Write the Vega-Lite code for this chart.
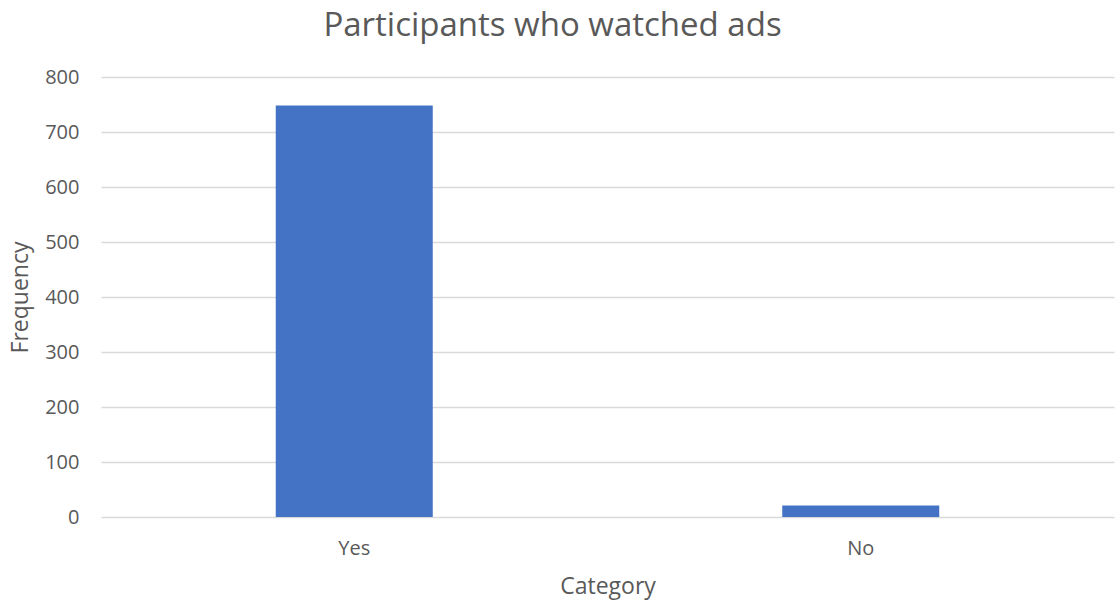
{
  "$schema": "https://vega.github.io/schema/vega-lite/v6.json",
  "width": 1013,
  "height": 440,
  "autosize": "none",
  "padding": {"left": 101, "top": 77, "right": 1, "bottom": 87},
  "background": "white",
  "title": {
    "text": "Participants who watched ads",
    "fontSize": 33,
    "font": "Open Sans",
    "fontWeight": "normal",
    "color": "#595959",
    "anchor": "middle",
    "dx": -55,
    "offset": 24
  },
  "data": {
    "values": [
      {"Category": "Yes", "Frequency": 748},
      {"Category": "No", "Frequency": 21}
    ]
  },
  "config": {
    "view": {"stroke": null},
    "axis": {
      "labelFont": "Open Sans",
      "titleFont": "Open Sans",
      "labelColor": "#595959",
      "titleColor": "#595959",
      "labelFontSize": 20,
      "titleFontSize": 23,
      "titleFontWeight": "normal",
      "ticks": false,
      "domain": false
    }
  },
  "mark": {"type": "bar", "color": "#4472C4"},
  "encoding": {
    "x": {
      "field": "Category",
      "type": "nominal",
      "sort": ["Yes", "No"],
      "scale": {"paddingInner": 0.69, "paddingOuter": 0.345},
      "axis": {"labelAngle": 0, "labelPadding": 21, "titlePadding": 17, "grid": false}
    },
    "y": {
      "field": "Frequency",
      "type": "quantitative",
      "scale": {"domain": [0, 800]},
      "axis": {"values": [0,100,200,300,400,500,600,700,800], "gridColor": "#d9d9d9", "gridWidth": 1.3, "labelPadding": 22, "titlePadding": 12}
    }
  }
}
